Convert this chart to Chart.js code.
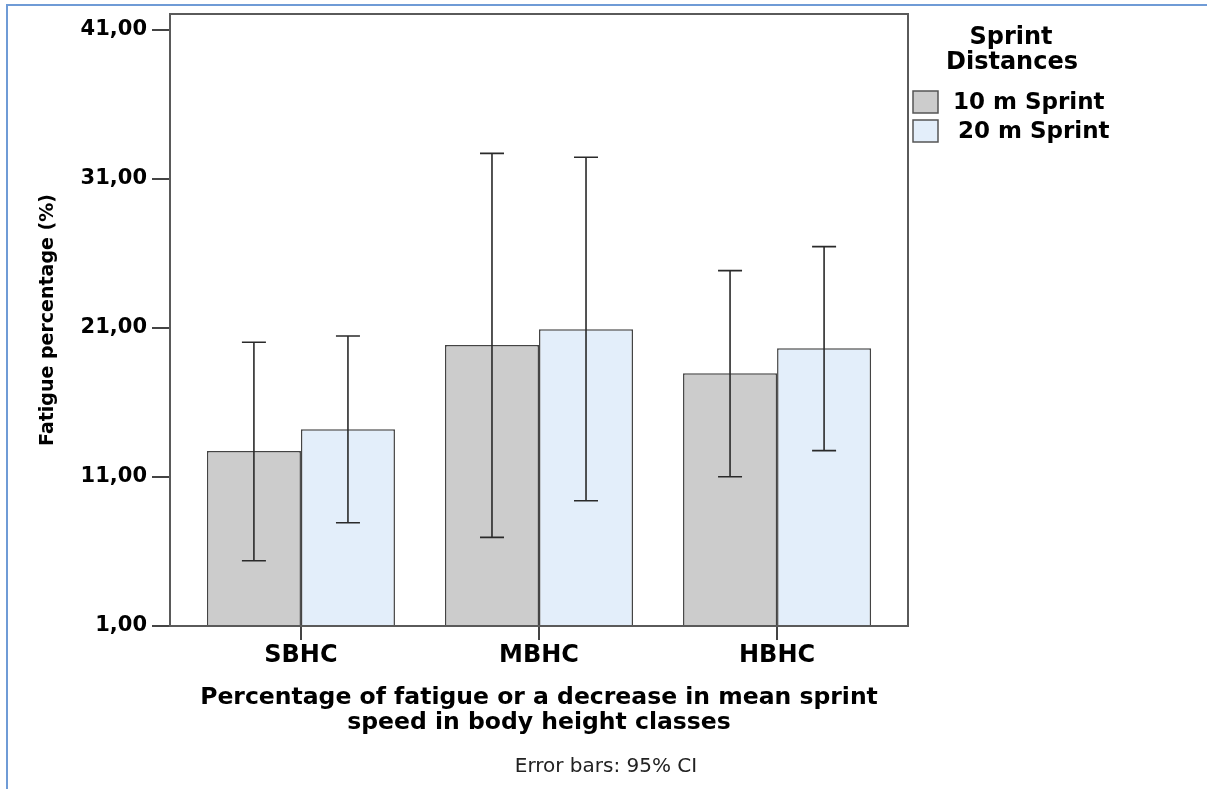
<!DOCTYPE html>
<html>
<head>
<meta charset="utf-8">
<script src="https://cdn.jsdelivr.net/npm/chart.js@4.4.1/dist/chart.umd.min.js"></script>
<style>
  html, body { margin: 0; padding: 0; background: #fff; }
  #wrap { width: 1207px; height: 789px; }
</style>
</head>
<body>
<div id="wrap"><canvas id="chart"></canvas></div>
<script>
// values
const categories = ['SBHC', 'MBHC', 'HBHC'];
const seriesLabels = ['10 m Sprint', '20 m Sprint'];
const sprint10 = [12.74, 19.86, 17.96];
const sprint10Low = [5.38, 6.95, 11.02];
const sprint10High = [20.04, 32.72, 24.85];
const sprint20 = [14.20, 20.91, 19.64];
const sprint20Low = [7.93, 9.41, 12.77];
const sprint20High = [20.46, 32.46, 26.46];
const yTicks = [1, 11, 21, 31, 41];

const FONT = "'DejaVu Sans', sans-serif";
Chart.defaults.font.family = FONT;
Chart.defaults.color = '#000';

const toPoints = vals => vals.map((v, i) => ({ x: i, y: v }));

// white page, blue outer frame, plot box, error bars, legend, footnote
const decor = {
  id: 'decor',
  beforeDraw(chart) {
    const ctx = chart.ctx;
    ctx.save();
    ctx.fillStyle = '#fff';
    ctx.fillRect(0, 0, chart.width, chart.height);
    ctx.strokeStyle = '#6f9bd6';
    ctx.lineWidth = 2;
    ctx.beginPath();
    ctx.moveTo(7, chart.height);
    ctx.lineTo(7, 5);
    ctx.lineTo(chart.width, 5);
    ctx.stroke();
    ctx.restore();
  },
  afterDatasetsDraw(chart) {
    const ctx = chart.ctx;
    const y = chart.scales.y;
    const a = chart.chartArea;
    ctx.save();
    chart.data.datasets.forEach((ds, di) => {
      const meta = chart.getDatasetMeta(di);
      meta.data.forEach((bar, i) => {
        const hi = y.getPixelForValue(ds.errHigh[i]);
        const lo = y.getPixelForValue(ds.errLow[i]);
        ctx.strokeStyle = '#2a2a2a';
        ctx.lineWidth = 1.6;
        ctx.beginPath();
        ctx.moveTo(bar.x, hi); ctx.lineTo(bar.x, lo);
        ctx.moveTo(bar.x - 12, hi); ctx.lineTo(bar.x + 12, hi);
        ctx.moveTo(bar.x - 12, lo); ctx.lineTo(bar.x + 12, lo);
        ctx.stroke();
      });
    });
    ctx.strokeStyle = '#5a5a5a';
    ctx.lineWidth = 2;
    ctx.strokeRect(a.left, a.top, a.right - a.left, a.bottom - a.top);
    ctx.restore();
  },
  afterDraw(chart) {
    const ctx = chart.ctx;
    ctx.save();
    ctx.fillStyle = '#000';
    ctx.textAlign = 'center';
    ctx.textBaseline = 'middle';
    ctx.font = 'bold 24px ' + FONT;
    ctx.fillText('Sprint', 1011, 38);
    ctx.fillText('Distances', 1012, 63);

    ctx.font = 'bold 23px ' + FONT;
    ctx.textAlign = 'left';
    const rows = [102, 131];
    chart.data.datasets.forEach((ds, i) => {
      ctx.fillStyle = ds.backgroundColor;
      ctx.fillRect(913, rows[i] - 11, 25, 22);
      ctx.strokeStyle = '#555';
      ctx.lineWidth = 1.5;
      ctx.strokeRect(913, rows[i] - 11, 25, 22);
      ctx.fillStyle = '#000';
      ctx.fillText(ds.label, i === 0 ? 953 : 958, rows[i] + 1);
    });

    ctx.font = '20px ' + FONT;
    ctx.textAlign = 'center';
    ctx.fillStyle = '#222';
    ctx.fillText('Error bars: 95% CI', 606, 767);
    ctx.restore();
  }
};

new Chart(document.getElementById('chart'), {
  type: 'bar',
  data: {
    datasets: [
      {
        label: seriesLabels[0],
        data: toPoints(sprint10),
        errLow: sprint10Low,
        errHigh: sprint10High,
        backgroundColor: '#cccccc',
        borderColor: '#444',
        borderWidth: 1.5
      },
      {
        label: seriesLabels[1],
        data: toPoints(sprint20),
        errLow: sprint20Low,
        errHigh: sprint20High,
        backgroundColor: '#e3eefa',
        borderColor: '#444',
        borderWidth: 1.5
      }
    ]
  },
  options: {
    responsive: true,
    maintainAspectRatio: false,
    animation: false,
    devicePixelRatio: 1,
    layout: { padding: { left: 0, top: 14, right: 299, bottom: 34 } },
    datasets: { bar: { categoryPercentage: 0.79, barPercentage: 1 } },
    plugins: {
      legend: { display: false },
      tooltip: { enabled: false }
    },
    scales: {
      x: {
        type: 'linear',
        min: -0.55,
        max: 2.55,
        offset: false,
        afterBuildTicks: s => { s.ticks = categories.map((c, i) => ({ value: i })); },
        afterFit: s => {
          s.height = 129;
          s.paddingLeft = 0; s.paddingRight = 0; s.paddingTop = 0; s.paddingBottom = 0;
        },
        border: { display: false },
        grid: { offset: false, drawOnChartArea: false, tickLength: 14, color: '#444', lineWidth: 2 },
        ticks: {
          padding: 1,
          font: { size: 24, weight: 'bold' },
          callback: v => categories[v]
        },
        title: {
          display: true,
          text: ['Percentage of fatigue or a decrease in mean sprint', 'speed in body height classes'],
          font: { size: 23.5, weight: 'bold', lineHeight: '25px' },
          padding: { top: 0, bottom: 20 }
        }
      },
      y: {
        min: 1,
        max: 42.07,
        afterBuildTicks: s => { s.ticks = yTicks.map(v => ({ value: v })); },
        afterFit: s => {
          s.width = 170;
          s.paddingLeft = 0; s.paddingRight = 0; s.paddingTop = 0; s.paddingBottom = 0;
        },
        border: { display: false },
        grid: { drawOnChartArea: false, tickLength: 18, color: '#444', lineWidth: 2 },
        ticks: {
          padding: 5,
          font: { size: 21, weight: 'bold' },
          callback: v => v.toFixed(2).replace('.', ',')
        },
        title: {
          display: true,
          text: 'Fatigue percentage (%)',
          font: { size: 19, weight: 'bold' },
          padding: { top: 37, bottom: 0 }
        }
      }
    }
  },
  plugins: [decor]
});
</script>
</body>
</html>
